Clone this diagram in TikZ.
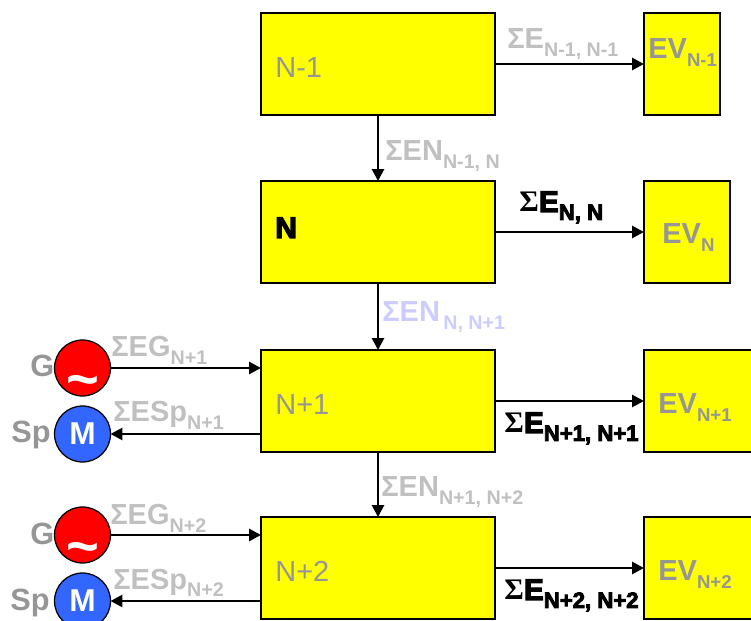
\documentclass[tikz,border=0pt]{standalone}
\usepackage{fontspec}
\setmainfont{Liberation Sans}
\newfontfamily\heavyfont{Liberation Sans}[BoldFeatures={FakeBold=4}]
\newfontfamily\sigmafont{Liberation Serif}
\usetikzlibrary{arrows.meta}
\definecolor{boxyellow}{RGB}{255,255,0}
\definecolor{genred}{RGB}{255,0,0}
\definecolor{labelgray}{HTML}{C0C0C0}
\definecolor{textgray}{HTML}{969696}
\definecolor{paleblue}{HTML}{CCCCFF}
\definecolor{motorblue}{HTML}{3366FF}
\def\sumtext[#1](#2)(#3:#4){\node[anchor=base west,inner sep=0,text=labelgray,#1] at (#2) {\fontsize{16.5}{18}\selectfont\bfseries #3\raisebox{-4.5pt}{\fontsize{11.2}{12}\selectfont #4}};}
\def\blacktext(#1)(#2){\node[anchor=base west,inner sep=0,text=black,font=\heavyfont] at (#1) {\fontsize{17}{18}\selectfont\bfseries {\sigmafont Σ}E\raisebox{-4.5pt}{\fontsize{12.6}{12}\selectfont #2}};}
\def\boxtext(#1)(#2:#3){\node[anchor=base west,inner sep=0,text=textgray] at (#1) {\fontsize{16.5}{18}\selectfont\bfseries #2\raisebox{-4.5pt}{\fontsize{10.6}{12}\selectfont #3}};}
\tikzset{
	netbox/.style={draw=black,fill=boxyellow,line width=0.055cm,inner sep=0,outer sep=0,minimum width=4.68cm,minimum height=2.04cm},
	evbox/.style={draw=black,fill=boxyellow,line width=0.055cm,inner sep=0,outer sep=0,minimum height=2.04cm},
	gencircle/.style={circle,draw=black,fill=genred,line width=0.025cm,inner sep=0,outer sep=0,minimum size=1.12cm},
	motorcircle/.style={circle,draw=black,fill=motorblue,line width=0.025cm,inner sep=0,outer sep=0,minimum size=1.12cm,text=white,font=\fontsize{18}{18}\selectfont\bfseries},
	flow/.style={line width=0.055cm,-{Triangle[length=0.24cm,width=0.24cm]}},
	letter/.style={anchor=base west,inner sep=0,text=textgray,font=\fontsize{16.5}{18}\selectfont},
	sideletter/.style={anchor=base west,inner sep=0,text=textgray,font=\fontsize{17.5}{18}\selectfont\bfseries},
	wave/.style={text=white,inner sep=0,font=\fontsize{32}{32}\selectfont\bfseries}
}
\begin{document}
\begin{tikzpicture}[x=0.02cm,y=-0.02cm]
	\useasboundingbox (0,0) rectangle (751,621);

	\node[netbox] (netA) at (378,64) {};
	\node[netbox] (netB) at (378,232) {};
	\node[netbox] (netC) at (378,401) {};
	\node[netbox] (netD) at (378,568) {};

	\node[evbox,minimum width=1.52cm] (evA) at (682,64) {};
	\node[evbox,minimum width=1.72cm] (evB) at (687,232) {};
	\node[evbox,minimum width=2.4cm] (evC) at (704,401) {};
	\node[evbox,minimum width=2.4cm] (evD) at (704,568) {};

	\node[gencircle] (genC) at (82.5,368) {};
	\node[gencircle] (genD) at (82.5,535) {};
	\node[motorcircle] (motC) at (82.5,434) {\raisebox{-1pt}{M}};
	\node[motorcircle] (motD) at (82.5,601) {\raisebox{-1pt}{M}};
	\node[wave] (waveC) at (82.5,387) {\textasciitilde};
	\node[wave] (waveD) at (82.5,554) {\textasciitilde};

	\draw[flow] (netA) -- (netB);
	\draw[flow] (netB) -- (netC);
	\draw[flow] (netC) -- (netD);

	\draw[flow] (netA) -- (evA);
	\draw[flow] (netB) -- (evB);
	\draw[flow] (netC) -- (evC);
	\draw[flow] (netD) -- (evD);

	\draw[flow] (genC) -- (genC -| netC.west);
	\draw[flow] (genD) -- (genD -| netD.west);
	\draw[flow] (motC -| netC.west) -- (motC);
	\draw[flow] (motD -| netD.west) -- (motD);

	\node[letter] (nameA) at (275,78) {N-1};
	\node[letter,text=black,font=\fontsize{17}{18}\selectfont\heavyfont\bfseries] (nameB) at (275,238) {N};
	\node[letter] (nameC) at (275,415) {N+1};
	\node[letter] (nameD) at (275,582) {N+2};

	\boxtext(648,59)(EV:N-1)
	\boxtext(662,244)(EV:N)
	\boxtext(658,414)(EV:N+1)
	\boxtext(658,581)(EV:N+2)

	\sumtext[](507,49)(ΣE:N-1, N-1)
	\blacktext(519,212)(N, N)
	\blacktext(504,433)(N+1, N+1)
	\blacktext(504,600)(N+2, N+2)

	\sumtext[](385,161)(ΣEN:N-1, N)
	\sumtext[text=paleblue](382,322)(ΣEN:\,N, N+1)
	\sumtext[](381,497)(ΣEN:N+1, N+2)

	\sumtext[](111,357)(ΣEG:N+1)
	\sumtext[](113,422)(ΣESp:N+1)
	\sumtext[](110,525)(ΣEG:N+2)
	\sumtext[](113,589)(ΣESp:N+2)

	\node[sideletter] (letterG) at (30,377) {G};
	\node[sideletter] (letterS) at (11,443) {Sp};
	\node[sideletter] (letterH) at (30,544) {G};
	\node[sideletter] (letterT) at (10,610) {Sp};
\end{tikzpicture}
\end{document}
